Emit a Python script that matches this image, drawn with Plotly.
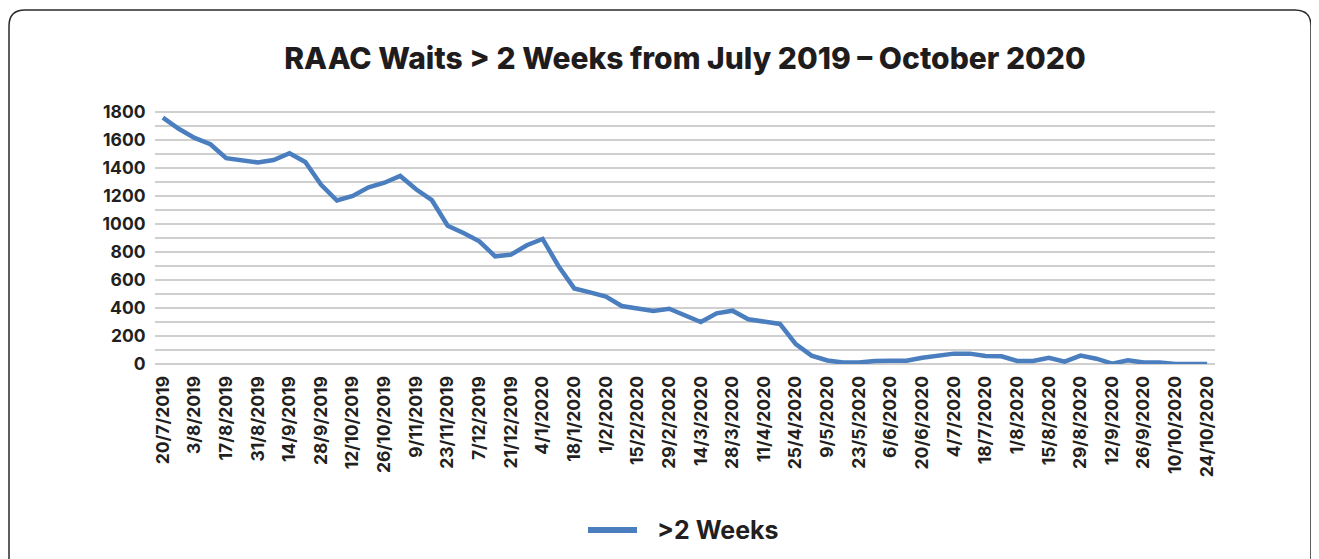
import datetime as dt
import plotly.graph_objects as go

# ---- data ----
start = dt.date(2019, 7, 20)
weeks = [start + dt.timedelta(days=7 * i) for i in range(67)]
categories = [f"{d.day}/{d.month}/{d.year}" for d in weeks]

waits_over_2_weeks = [
    1760, 1680, 1615, 1570, 1470, 1455, 1440, 1457, 1505, 1443,
    1280, 1168, 1200, 1262, 1295, 1343, 1248, 1170, 988, 936,
    876, 769, 781, 848, 893, 700, 540, 512, 481, 414,
    395, 379, 395, 348, 300, 362, 381, 319, 302, 286,
    142, 60, 25, 10, 10, 22, 24, 24, 45, 62,
    74, 74, 58, 55, 22, 22, 45, 17, 60, 38,
    3, 26, 10, 10, 0, 0, 0,
]
tick_labels = categories[::2]
y_ticks = list(range(0, 1801, 200))

series_name = ">2 Weeks"
title_text = "RAAC Waits > 2 Weeks from July 2019 \u2013 October 2020"

# ---- layout geometry (pixels; the page adds an 8px body margin) ----
OFF = 8
W, H = 1319 - OFF, 559 - OFF
L, R, T, B = 155 - OFF, 1215 - OFF, 98 - OFF, 364 - OFF
pw, ph = R - L, B - T

def px(x):
    return (x - OFF - L) / pw

def py(y):
    return (B - (y - OFF)) / ph

LINE_COLOR = "#4a7ebf"
TEXT_COLOR = "#231f20"
font_family = "Inter, Liberation Sans, Arial, sans-serif"

fig = go.Figure()
fig.add_trace(go.Scatter(
    x=categories, y=waits_over_2_weeks, mode="lines", name=series_name,
    line=dict(color=LINE_COLOR, width=4.5), showlegend=False,
))

# rounded border box
rad = 16
x0, x1, y0, y1 = 9, 1311, 10, 620
path = (
    f"M {px(x0)},{py(y1)} L {px(x0)},{py(y0 + rad)} "
    f"Q {px(x0)},{py(y0)} {px(x0 + rad)},{py(y0)} "
    f"L {px(x1 - rad)},{py(y0)} Q {px(x1)},{py(y0)} {px(x1)},{py(y0 + rad)} "
    f"L {px(x1)},{py(y1)}"
)
fig.add_shape(type="path", path=path, xref="paper", yref="paper",
              line=dict(color="#2a2a2a", width=1.5), layer="below")

# legend (drawn manually so the sample line matches the reference length)
fig.add_shape(type="line", xref="paper", yref="paper",
              x0=px(588), x1=px(637), y0=py(530), y1=py(530),
              line=dict(color=LINE_COLOR, width=6))
fig.add_annotation(text=series_name, xref="paper", yref="paper",
                   x=px(655), y=py(530), xanchor="left", yanchor="middle",
                   showarrow=False,
                   font=dict(family=font_family, size=25, color=TEXT_COLOR, weight=700))

fig.update_layout(
    width=W, height=H,
    margin=dict(l=L, r=W - R, t=T, b=H - B, autoexpand=False),
    paper_bgcolor="white", plot_bgcolor="white",
    title=dict(text=title_text, x=0.5, xref="paper", xanchor="center",
               y=1 - (58 - OFF) / H, yanchor="middle",
               font=dict(family=font_family, size=30, color="#1f1c1d", weight=800)),
    font=dict(family=font_family, color=TEXT_COLOR),
    showlegend=False,
    xaxis=dict(
        type="category", range=[-0.5, 66.5],
        tickmode="array", tickvals=tick_labels, ticktext=tick_labels,
        tickangle=-90,
        tickfont=dict(family=font_family, size=17.5, color=TEXT_COLOR, weight=700),
        showgrid=False, showline=False, zeroline=False,
        ticks="outside", ticklen=4, tickcolor="rgba(0,0,0,0)",
    ),
    yaxis=dict(
        range=[0, 1900], tickmode="array", tickvals=y_ticks,
        ticktext=[str(v) for v in y_ticks],
        tickfont=dict(family=font_family, size=17.5, color=TEXT_COLOR, weight=700),
        showgrid=True, gridcolor="#cfcfcf", gridwidth=2,
        minor=dict(tickmode="array", tickvals=list(range(100, 1901, 200)),
                   showgrid=True, gridcolor="#cfcfcf", gridwidth=2),
        zeroline=True, zerolinecolor="#cfcfcf", zerolinewidth=2,
        showline=False, ticks="outside", ticklen=5, tickcolor="rgba(0,0,0,0)",
    ),
)

fig.write_html("out.html")
